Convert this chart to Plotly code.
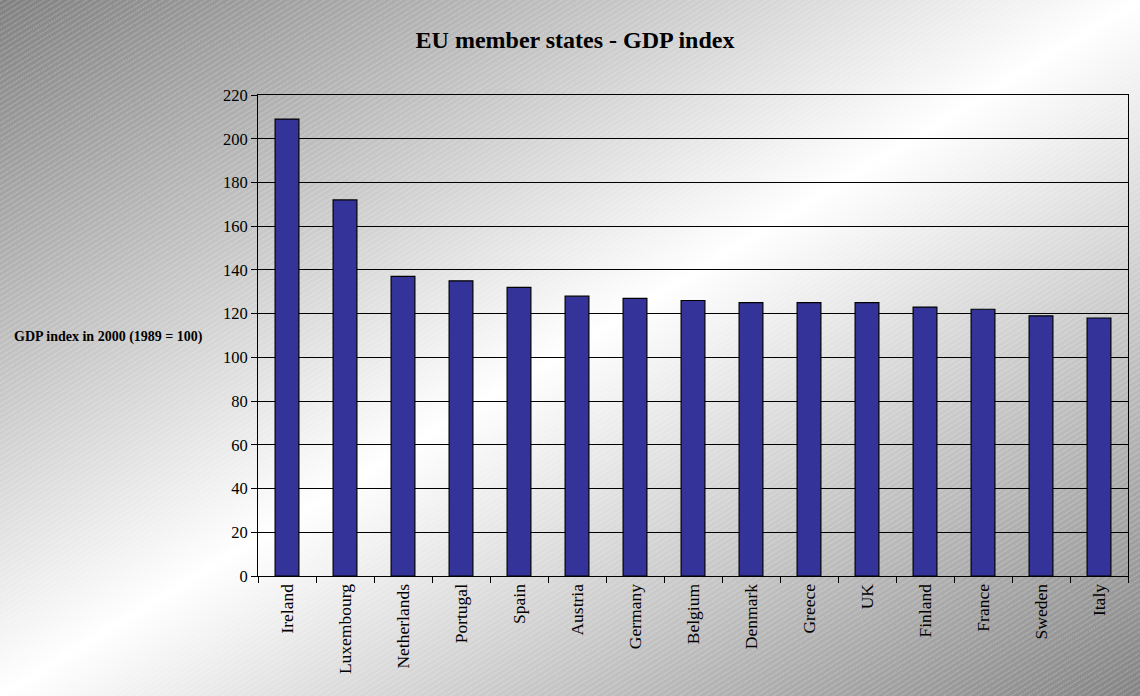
import base64
import plotly.graph_objects as go

countries = ["Ireland", "Luxembourg", "Netherlands", "Portugal", "Spain", "Austria",
             "Germany", "Belgium", "Denmark", "Greece", "UK", "Finland", "France",
             "Sweden", "Italy"]
gdp_index = [209, 172, 137, 135, 132, 128, 127, 126, 125, 125, 125, 123, 122, 119, 118]
y_ticks = list(range(0, 221, 20))

W, H = 1140, 696
L, R, T, B = 258, 12, 95, 120
pw, ph = W - L - R, H - T - B

svg = f'''<svg xmlns="http://www.w3.org/2000/svg" width="{W}" height="{H}" viewBox="0 0 {W} {H}" preserveAspectRatio="none">
<defs>
<linearGradient id="g" x1="0" y1="0" x2="1" y2="1">
<stop offset="0" stop-color="#808080"/>
<stop offset="0.5" stop-color="#ffffff"/>
<stop offset="1" stop-color="#838383"/>
</linearGradient>
<pattern id="h" patternUnits="userSpaceOnUse" width="8" height="4.5" patternTransform="rotate(-32)">
<line x1="0" y1="1" x2="8" y2="1" stroke="#ffffff" stroke-opacity="0.35" stroke-width="1" stroke-dasharray="1.5,1"/>
</pattern>
</defs>
<rect width="{W}" height="{H}" fill="url(#g)"/>
<rect width="{W}" height="{H}" fill="url(#h)"/>
</svg>'''
src = "data:image/svg+xml;base64," + base64.b64encode(svg.encode()).decode()

fig = go.Figure(go.Bar(
    x=countries, y=gdp_index,
    marker=dict(color="#333399", line=dict(color="#000000", width=1.2)),
))

fig.update_layout(
    width=W, height=H,
    margin=dict(l=L, r=R, t=T, b=B, autoexpand=False),
    paper_bgcolor="#ffffff", plot_bgcolor="rgba(0,0,0,0)",
    bargap=0.59, showlegend=False,
    font=dict(family="Liberation Serif", color="#000000", size=16),
    title=dict(text="<b>EU member states - GDP index</b>", x=575 / W, xanchor="center",
               y=1 - 40 / H, yanchor="middle", font=dict(size=24, family="Liberation Serif")),
    images=[dict(source=src, xref="paper", yref="paper", x=-L / pw, y=1 + T / ph,
                 sizex=W / pw, sizey=H / ph, xanchor="left", yanchor="top",
                 sizing="stretch", layer="below")],
    annotations=[dict(text="<b>GDP index in 2000 (1989 = 100)</b>", xref="paper", yref="paper",
                      x=(108 - L) / pw, y=(576 - 337) / ph, xanchor="center", yanchor="middle",
                      showarrow=False, font=dict(size=14, family="Liberation Serif"))],
)
fig.update_xaxes(tickangle=-90, ticks="outside", ticklen=6, tickcolor="#000",
                 tickson="boundaries", showline=True, linecolor="#000", linewidth=1,
                 mirror=True, showgrid=False, tickfont=dict(size=17.5))
fig.update_yaxes(range=[0, 220], tickvals=y_ticks, ticks="outside", ticklen=6,
                 tickcolor="#000", showline=True, linecolor="#000", linewidth=1,
                 mirror=True, showgrid=True, gridcolor="#000", gridwidth=1,
                 zeroline=False, tickfont=dict(size=16.5))

fig.write_html("out.html", config={"displayModeBar": False},
               post_script="document.body.style.margin='0';")
